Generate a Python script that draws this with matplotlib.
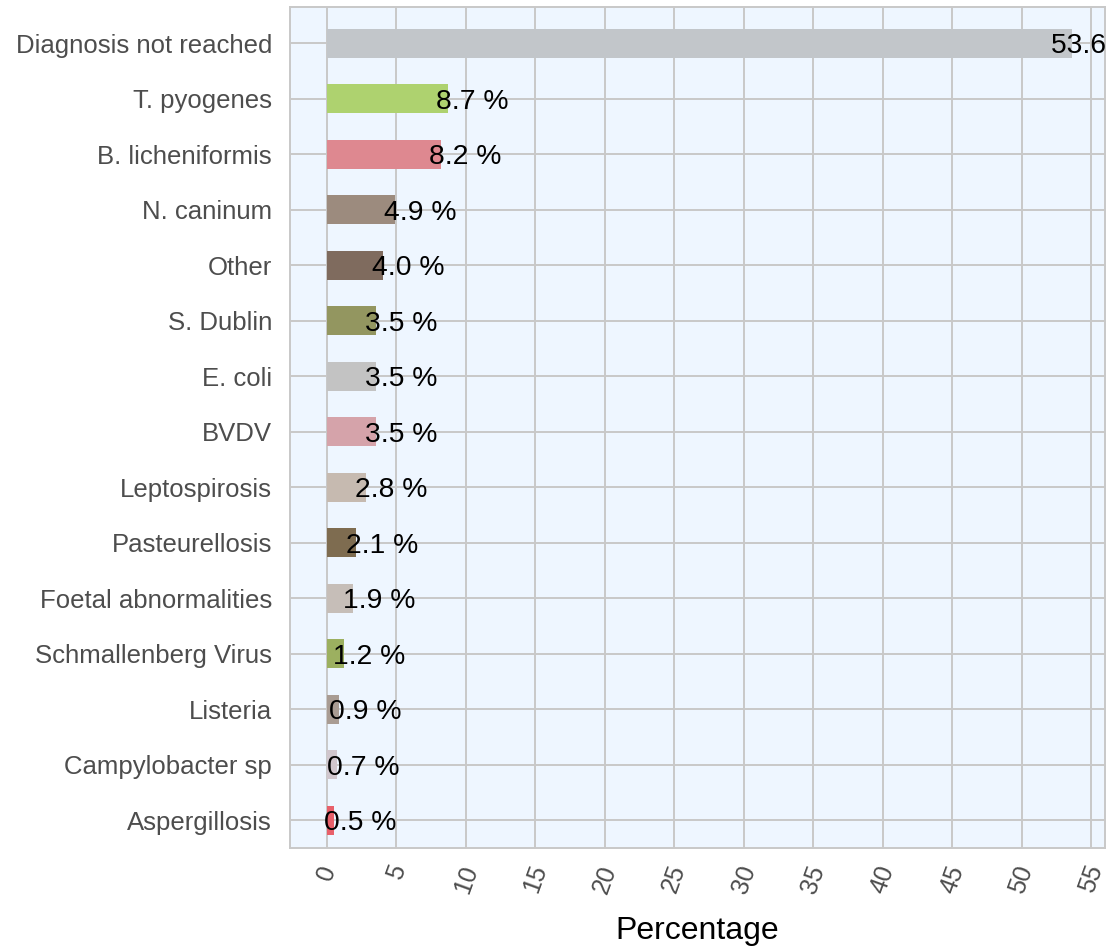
import matplotlib
matplotlib.use("Agg")
import matplotlib.pyplot as plt
import matplotlib.transforms as mtransforms

plt.rcParams['font.family'] = ['Liberation Sans', 'DejaVu Sans']

categories = ["Diagnosis not reached", "T. pyogenes", "B. licheniformis", "N. caninum",
              "Other", "S. Dublin", "E. coli", "BVDV", "Leptospirosis", "Pasteurellosis",
              "Foetal abnormalities", "Schmallenberg Virus", "Listeria", "Campylobacter sp",
              "Aspergillosis"]
values = [53.6, 8.7, 8.2, 4.9, 4.0, 3.5, 3.5, 3.5, 2.8, 2.1, 1.9, 1.2, 0.9, 0.7, 0.5]
labels = ["53.6 %", "8.7 %", "8.2 %", "4.9 %", "4.0 %", "3.5 %", "3.5 %", "3.5 %",
          "2.8 %", "2.1 %", "1.9 %", "1.2 %", "0.9 %", "0.7 %", "0.5 %"]
colors = ["#C2C6CA", "#AED26F", "#DE8890", "#9C8B7E", "#7F6B5E", "#939660", "#C3C3C3",
          "#D5A3AA", "#C6BAB0", "#7E6C50", "#C6BEB8", "#9CB060", "#A99C93", "#D0C6CD",
          "#E8606A"]
xticks = list(range(0, 60, 5))

fig = plt.figure(figsize=(11.1, 9.51), dpi=100)
ax = fig.add_axes([290/1110, 1-848/951, (1105-290)/1110, (848-7)/951])
ax.set_facecolor("#EEF6FF")

pos = list(range(len(categories)))
ax.barh(pos, values, height=0.52, color=colors, zorder=3)

for p, v, lab in zip(pos, values, labels):
    off = mtransforms.offset_copy(ax.transData, fig=fig, x=-10 - 0.2 * v, y=-3, units='dots')
    ax.text(v, p, lab, transform=off, ha='left', va='center', fontsize=20.3,
            color='black', zorder=4, clip_on=True)

ax.set_xlim(-2.66, 56.0)
ax.set_ylim(14.5, -0.65)
ax.set_yticks(pos)
ax.set_yticklabels(categories)
ax.set_xticks(xticks)
ax.set_xticklabels([str(t) for t in xticks], rotation=70, ha='center', va='top')

ax.tick_params(axis='y', length=0, pad=13, labelsize=18.5, labelcolor='#4D4D4D')
ax.tick_params(axis='x', length=0, pad=10, labelsize=18, labelcolor='#4D4D4D')

ax.grid(True, color='#C8C8C8', linewidth=1.4, zorder=1)
ax.set_axisbelow(True)
for s in ax.spines.values():
    s.set_color('#C8C8C8')
    s.set_linewidth(1.4)

ax.set_xlabel("Percentage", fontsize=23, color='black', labelpad=14)

fig.savefig("out.png", dpi=100)
